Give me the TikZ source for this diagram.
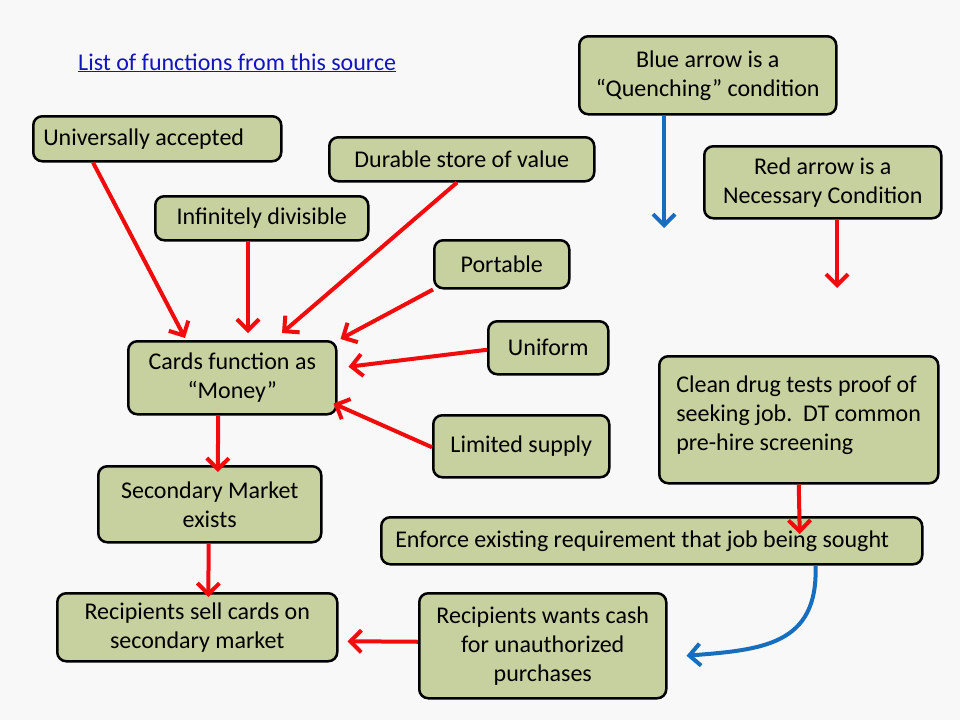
\documentclass[tikz,border=0pt]{standalone}
\usepackage{fontspec}
\setmainfont{Carlito}
\usetikzlibrary{arrows.meta}
\definecolor{boxfill}{RGB}{199,208,159}
\definecolor{redarr}{RGB}{240,12,12}
\definecolor{bluearr}{RGB}{24,110,190}
\definecolor{linkblue}{RGB}{20,20,190}
\definecolor{bgcol}{RGB}{248,248,248}
\begin{document}
\begin{tikzpicture}[x=1pt,y=-1pt,
  box/.style={draw=black, line width=2.5pt, fill=boxfill, rounded corners=9pt,
    inner sep=0pt, anchor=north west, font=\fontsize{24}{29}\selectfont, align=center},
  redar/.style={draw=redarr, line width=4pt, -{Straight Barb[length=11pt,width=22pt]}},
  bluear/.style={draw=bluearr, line width=4pt, -{Straight Barb[length=11pt,width=22pt]}},
]
\fill[bgcol] (0,0) rectangle (960,720);
\useasboundingbox (0,0) rectangle (960,720);

% link text
\node[anchor=base west, inner sep=0pt, text=linkblue, font=\fontsize{24}{29}\selectfont] (link) at (78,70) {\underline{List of functions from this source}};

% boxes
\node[box, minimum height=45pt, text width=228pt, inner xsep=10pt, align=flush left] (ua) at (32,115) {Universally accepted};
\node[box, minimum width=265pt, minimum height=44pt] (ds) at (328,136) {Durable store of value};
\node[box, minimum width=213pt, minimum height=44pt] (id) at (154,195) {Infinitely divisible};
\node[box, minimum width=135pt, minimum height=48pt] (po) at (433,239) {Portable};
\node[box, minimum width=120pt, minimum height=53pt] (un) at (487,320) {Uniform};
\node[box, minimum width=208pt, minimum height=73pt] (cf) at (127,340) {Cards function as\\“Money”};
\node[box, minimum width=176pt, minimum height=62pt] (ls) at (432,414) {Limited supply};
\node[box, minimum width=223pt, minimum height=76pt] (sm) at (97,465) {Secondary Market\\exists};
\node[box, minimum width=280pt, minimum height=68pt] (rs) at (56,592) {Recipients sell cards on\\secondary market};
\node[box, minimum width=247pt, minimum height=105pt] (rw) at (418,592) {Recipients wants cash\\for unauthorized\\purchases};
\node[box, minimum height=47pt, text width=513pt, inner xsep=14pt, align=flush left] (en) at (380,516) {Enforce existing requirement that job being sought};
\node[box, minimum height=127pt, text width=245pt, inner xsep=17pt, align=flush left] (cd) at (658,355) {Clean drug tests proof of\\seeking job.\ \ DT common\\pre-hire screening\rule[-14pt]{0pt}{0pt}};
\node[box, minimum width=257pt, minimum height=78pt] (bl) at (578,35) {Blue arrow is a\\“Quenching” condition};
\node[box, minimum width=237pt, minimum height=72pt] (rl) at (703,145) {Red arrow is a\\Necessary Condition};

% free ends of legend arrows
\coordinate (blend) at (664,228);
\coordinate (rlend) at (837,288);

% connectors
\draw[redar] ([xshift=61pt]ua.south west) -- ([xshift=58pt,yshift=2pt]cf.north west);
\draw[redar] ([xshift=94pt]id.south west) -- ([xshift=121pt,yshift=7pt]cf.north west);
\draw[redar] ([xshift=129pt]ds.south west) -- ([xshift=155pt,yshift=7pt]cf.north west);
\draw[redar] (po.south west) -- ([xshift=3pt,yshift=1pt]cf.north east);
\draw[redar] ([yshift=-2pt]un.west) -- ([xshift=11pt,yshift=11pt]cf.east);
\draw[redar] ([yshift=-1pt]ls.west) -- ([xshift=-4pt,yshift=12pt]cf.south east);
\draw[redar] ([xshift=-14pt]cf.south) -- ([xshift=8pt,yshift=-7pt]sm.north);
\draw[redar] ([xshift=-1pt]sm.south) -- ([xshift=11pt,yshift=-5pt]rs.north);
\draw[redar] ([yshift=4pt]rw.west) -- ([xshift=9pt,yshift=-14pt]rs.east);
\draw[redar] (cd.south) -- ([xshift=148pt,yshift=-18pt]en.north);
\draw[bluear] ([xshift=-108pt]en.south east) .. controls +(3,80) and +(75,-6) .. ([xshift=19pt,yshift=-10pt]rw.east);
\draw[bluear] ([xshift=86pt]bl.south west) -- (blend);
\draw[redar] ([xshift=134pt]rl.south west) -- (rlend);
\end{tikzpicture}
\end{document}
